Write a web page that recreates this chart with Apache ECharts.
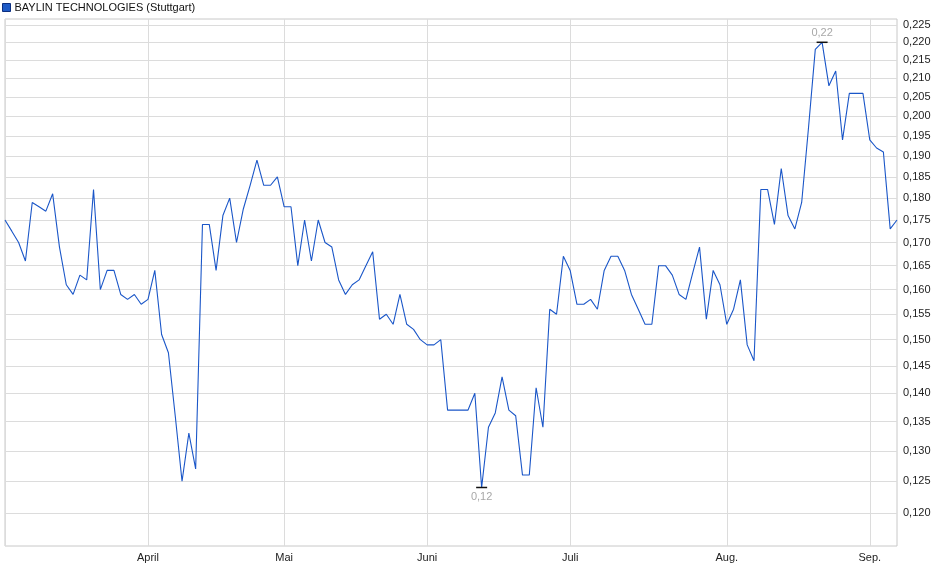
<!DOCTYPE html>
<html>
<head>
<meta charset="utf-8">
<script src="https://cdn.jsdelivr.net/npm/echarts@6/dist/echarts.min.js"></script>
<style>
html,body{margin:0;padding:0;background:#fff;}
#chart{width:940px;height:579px;}
</style>
</head>
<body>
<div id="chart"></div>
<script>
// Trading days (Stuttgart) from 2025-03-03 to 2025-09-05
const startDate = '2025-03-03';
const endDate = '2025-09-05';
const holidays = ['2025-04-18', '2025-04-21', '2025-05-01'];
const monthNames = ['Jan.', 'Feb.', 'März', 'April', 'Mai', 'Juni', 'Juli', 'Aug.', 'Sep.', 'Okt.', 'Nov.', 'Dez.'];
const seriesName = 'BAYLIN TECHNOLOGIES (Stuttgart)';

// closing prices, one per trading day
const prices = [
  0.175, 0.1725, 0.170, 0.166, 0.179, 0.178, 0.177, 0.181, 0.169, 0.161,
  0.159, 0.163, 0.162, 0.182, 0.160, 0.164, 0.164, 0.159, 0.158, 0.159,
  0.157, 0.158, 0.164, 0.151, 0.1475, 0.136, 0.125, 0.133, 0.127, 0.174,
  0.174, 0.164, 0.176, 0.180, 0.170, 0.1775, 0.183, 0.189, 0.183, 0.183,
  0.185, 0.178, 0.178, 0.165, 0.175, 0.166, 0.175, 0.170, 0.169, 0.162,
  0.159, 0.161, 0.162, 0.165, 0.168, 0.154, 0.155, 0.153, 0.159, 0.153,
  0.152, 0.150, 0.149, 0.149, 0.150, 0.137, 0.137, 0.137, 0.137, 0.140,
  0.124, 0.134, 0.1365, 0.143, 0.137, 0.136, 0.126, 0.126, 0.141, 0.134,
  0.156, 0.155, 0.167, 0.164, 0.157, 0.157, 0.158, 0.156, 0.164, 0.167,
  0.167, 0.164, 0.159, 0.156, 0.153, 0.153, 0.165, 0.165, 0.163, 0.159,
  0.158, 0.1635, 0.169, 0.154, 0.164, 0.161, 0.153, 0.156, 0.162, 0.149,
  0.146, 0.182, 0.182, 0.174, 0.187, 0.176, 0.173, 0.179, 0.197, 0.218,
  0.220, 0.208, 0.212, 0.194, 0.206, 0.206, 0.206, 0.194, 0.192, 0.191,
  0.173, 0.175
];

const yTicks = [0.120, 0.125, 0.130, 0.135, 0.140, 0.145, 0.150, 0.155, 0.160, 0.165, 0.170,
  0.175, 0.180, 0.185, 0.190, 0.195, 0.200, 0.205, 0.210, 0.215, 0.220, 0.225];

function pad(n) { return (n < 10 ? '0' : '') + n; }
function buildDates() {
  const out = [];
  const d = new Date(startDate + 'T12:00:00Z');
  const end = new Date(endDate + 'T12:00:00Z');
  while (d <= end) {
    const wd = d.getUTCDay();
    const s = d.getUTCFullYear() + '-' + pad(d.getUTCMonth() + 1) + '-' + pad(d.getUTCDate());
    if (wd !== 0 && wd !== 6 && holidays.indexOf(s) < 0) out.push(s);
    d.setUTCDate(d.getUTCDate() + 1);
  }
  return out;
}
const dates = buildDates();

function isMonthStart(i) {
  if (i === 0) return true;
  return dates[i].slice(5, 7) !== dates[i - 1].slice(5, 7);
}
function fmt(v, n) { return v.toFixed(n).replace('.', ','); }

const chart = echarts.init(document.getElementById('chart'), null, {renderer: 'canvas'});
chart.setOption({
  animation: false,
  backgroundColor: '#fff',
  textStyle: {fontFamily: 'Liberation Sans, Arial, sans-serif'},
  legend: {
    left: -3, top: -3,
    itemWidth: 8, itemHeight: 8, itemGap: 5,
    icon: 'rect',
    textStyle: {fontSize: 11, color: '#111', padding: [0, 0, 0, -1]},
    data: [{name: seriesName, itemStyle: {color: '#1f5bc6', borderColor: '#0c2f80', borderWidth: 1}}]
  },
  grid: {
    left: 5, right: 43, top: 19, bottom: 33,
    show: true, borderColor: '#c8c8c8', borderWidth: 1
  },
  xAxis: {
    type: 'category',
    data: dates,
    boundaryGap: false,
    axisLine: {show: false},
    axisTick: {show: false},
    axisLabel: {
      fontSize: 11, color: '#222', margin: 6,
      interval: function (i) { return i > 0 && isMonthStart(i); },
      formatter: function (v) { return monthNames[parseInt(v.slice(5, 7), 10) - 1]; }
    },
    splitLine: {
      show: true,
      interval: function (i) { return isMonthStart(i); },
      lineStyle: {color: '#dcdcdc', width: 1}
    }
  },
  yAxis: {
    type: 'log',
    logBase: 10,
    position: 'right',
    min: 0.115, max: 0.2267,
    axisLine: {show: false},
    axisTick: {show: false, customValues: yTicks},
    axisLabel: {
      fontSize: 11, color: '#222', margin: 6,
      customValues: yTicks,
      formatter: function (v) { return fmt(v, 3); }
    },
    splitLine: {show: true, lineStyle: {color: '#dcdcdc', width: 1}}
  },
  series: [{
    name: seriesName,
    type: 'line',
    data: prices,
    symbol: 'none',
    lineStyle: {color: '#1a56c8', width: 1.1},
    itemStyle: {color: '#1f5bc6'},
    markPoint: {
      symbol: 'rect',
      symbolSize: [11, 1.5],
      itemStyle: {color: '#111'},
      label: {
        show: true, fontSize: 11, color: '#a8a8a8',
        formatter: function (p) { return fmt(p.value, 2); }
      },
      data: [
        {type: 'max', label: {position: 'top', distance: 3}},
        {type: 'min', label: {position: 'bottom', distance: 3}}
      ]
    }
  }]
});
</script>
</body>
</html>
